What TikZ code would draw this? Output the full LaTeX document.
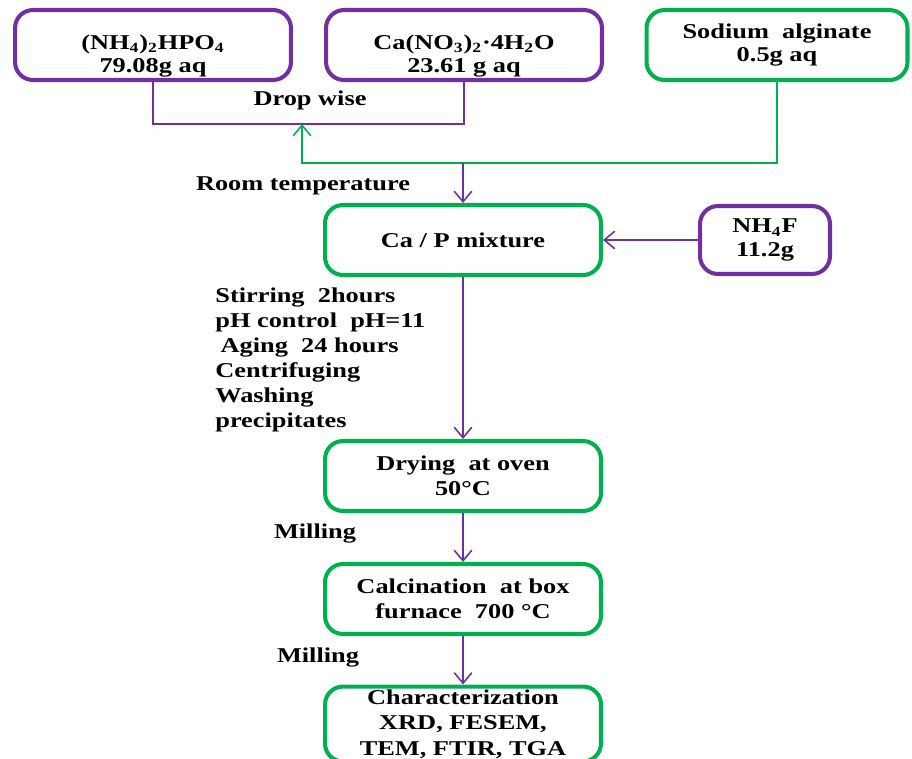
\documentclass[tikz,border=0pt]{standalone}
\usepackage{fontspec}
\setmainfont{Liberation Serif}[FakeStretch=1.25]
\usetikzlibrary{arrows.meta}
\definecolor{flowpurple}{RGB}{112,48,160}
\definecolor{flowgreen}{RGB}{0,176,80}

\begin{document}
\begin{tikzpicture}[x=0.02cm, y=-0.02cm,
every node/.style={font=\bfseries\fontsize{12}{13.2}\selectfont, align=center},
pbox/.style={draw=flowpurple, line width=2.3pt, rounded corners=0.36cm, minimum width=5.52cm, minimum height=1.4cm, inner sep=0pt},
gbox/.style={draw=flowgreen, line width=2.3pt, rounded corners=0.36cm, minimum width=5.52cm, minimum height=1.4cm, inner sep=0pt},
pline/.style={draw=flowpurple, line width=0.9pt},
gline/.style={draw=flowgreen, line width=0.9pt},
openarrow/.style={-{Straight Barb[length=6pt,width=10pt]}}]
\clip (0,0) rectangle (912,758);

\node[pbox] (nhp) at (153,45) {\rule{0pt}{21pt}(NH\textsubscript{4})\textsubscript{2}HPO\textsubscript{4}\\79.08g aq};
\node[pbox] (cano) at (464,45) {\rule{0pt}{21pt}Ca(NO\textsubscript{3})\textsubscript{2}·4H\textsubscript{2}O\\23.61 g aq};
\node[gbox, minimum width=5.22cm] (alg) at (777,45) {Sodium\ \ alginate\\0.5g aq};

\node[gbox] (mix) at (463,240) {Ca / P mixture};
\node[pbox, minimum width=2.6cm, minimum height=1.36cm] (nhf) at (765,240) {NH\textsubscript{4}F\\11.2g};
\node[gbox, font=\bfseries\fontsize{12}{14}\selectfont] (dry) at (463,476) {Drying\ \ at oven\\50°C};
\node[gbox, font=\bfseries\fontsize{12}{14}\selectfont] (calc) at (463,599) {Calcination\ \ at box\\furnace\ \ 700 °C};
\node[gbox, minimum height=1.5cm, font=\bfseries\fontsize{12}{14.5}\selectfont] (char) at (463,724) {Characterization\\XRD, FESEM,\\TEM, FTIR, TGA};

\node[anchor=base] (drop) at (310,105) {Drop wise};
\node[anchor=base] (room) at (303,190) {Room temperature};
\node[anchor=north west, align=left, inner sep=0pt, font=\bfseries\fontsize{12}{14.2}\selectfont] (steps) at (215,288) {Stirring\ \ 2hours\\pH control\ \ pH=11\\\hspace*{3pt}Aging\ \ 24 hours\\Centrifuging\\Washing\\precipitates};
\node[anchor=base] (mill1) at (315,538) {Milling};
\node[anchor=base] (mill2) at (318,662) {Milling};

\coordinate (dropin) at (302,124);
\coordinate (algturn) at (302,163);
\coordinate (join) at (463,163);

\draw[pline] (nhp.south) -- ++(0,42) -| (cano.south);
\draw[gline, openarrow] (alg.south) |- (algturn) -- (dropin);
\draw[pline, openarrow] (join) -- (mix.north);
\draw[pline, openarrow] (nhf.west) -- (mix.east);
\draw[pline, openarrow] (mix.south) -- (dry.north);
\draw[pline, openarrow] (dry.south) -- (calc.north);
\draw[pline, openarrow] (calc.south) -- (char.north);
\end{tikzpicture}
\end{document}
